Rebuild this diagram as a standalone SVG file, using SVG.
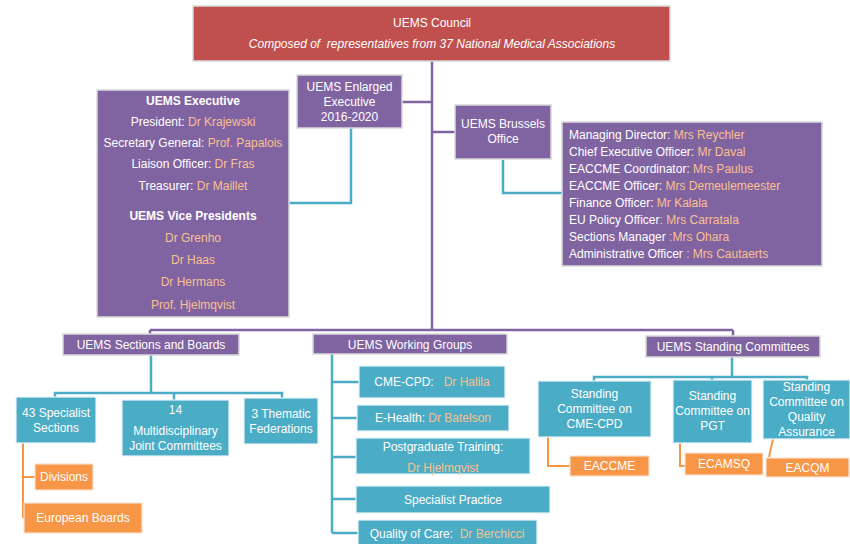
<svg xmlns="http://www.w3.org/2000/svg" width="850" height="544" viewBox="0 0 850 544">
<style>
text{font-family:"Liberation Sans",Arial,sans-serif;font-size:12px;fill:#FFFFFF;white-space:pre}
.c{text-anchor:middle}
.b{font-weight:bold}
.n{fill:#FAC08F}
.red{fill:#C0504D;stroke:#D9D9D9;stroke-width:1.5}
.pur{fill:#8064A2;stroke:#D9D9D9;stroke-width:1.5}
.tea{fill:#4BACC6;stroke:#E8F4F8;stroke-width:1.2}
.ora{fill:#F79646;stroke:#FBE2D0;stroke-width:1.2}
.lp{fill:none;stroke:#8064A2;stroke-width:2.5}
.lt{fill:none;stroke:#4BACC6;stroke-width:2.5}
.lo{fill:none;stroke:#F79646;stroke-width:2}
</style>
<rect width="850" height="544" fill="#FFFFFF"/>
<g id="connectors">
<path class="lp" d="M432,61 V330"/>
<path class="lp" d="M402,102 H432"/>
<path class="lp" d="M432,132 H455"/>
<path class="lp" d="M150,330 H733 M150,330 V334 M733,330 V336"/>
<path class="lt" d="M351,128 V203 H289"/>
<path class="lt" d="M503,160 V193 H562"/>
<path class="lt" d="M151,355 V393 M55,397 V393 H282 V398 M174,393 V400"/>
<path class="lt" d="M332,354 V533 M332,382 H359 M332,418 H357 M332,457 H356 M332,499 H356 M332,533 H358"/>
<path class="lt" d="M732,357 V377 M594,381 V377 H807 V380 M712,377 V380"/>
<path class="lo" d="M23,443 V518 M23,477 H35"/>
<path class="lo" d="M548,437 V466 H570"/>
<path class="lo" d="M680,443 V466 H685"/>
<path class="lo" d="M773,439 L769,457"/>
</g>
<g id="council">
<rect class="red" x="193" y="6" width="477" height="55"/>
<text class="c" x="432" y="27" font-size="12.5">UEMS Council</text>
<text class="c" x="432" y="48" font-size="12.5" font-style="italic">Composed of  representatives from 37 National Medical Associations</text>
</g>
<g id="enlarged-executive">
<rect class="pur" x="297" y="75" width="105" height="53"/>
<text class="c" x="349.5" y="91">UEMS Enlarged</text>
<text class="c" x="349.5" y="106">Executive</text>
<text class="c" x="349.5" y="121">2016-2020</text>
</g>
<g id="executive">
<rect class="pur" x="97" y="90" width="192" height="227"/>
<text class="c b" x="193" y="105">UEMS Executive</text>
<text class="c" x="193" y="126">President: <tspan class="n">Dr Krajewski</tspan></text>
<text class="c" x="193" y="147">Secretary General: <tspan class="n">Prof. Papalois</tspan></text>
<text class="c" x="193" y="168">Liaison Officer: <tspan class="n">Dr Fras</tspan></text>
<text class="c" x="193" y="190">Treasurer: <tspan class="n">Dr Maillet</tspan></text>
<text class="c b" x="193" y="220">UEMS Vice Presidents</text>
<text class="c n" x="193" y="242">Dr Grenho</text>
<text class="c n" x="193" y="264">Dr Haas</text>
<text class="c n" x="193" y="286">Dr Hermans</text>
<text class="c n" x="193" y="309">Prof. Hjelmqvist</text>
</g>
<g id="brussels-office">
<rect class="pur" x="455" y="105" width="96" height="54"/>
<text class="c" x="503" y="128">UEMS Brussels</text>
<text class="c" x="503" y="143">Office</text>
</g>
<g id="brussels-staff">
<rect class="pur" x="562" y="122" width="260" height="144"/>
<text x="569" y="139">Managing Director: <tspan class="n">Mrs Reychler</tspan></text>
<text x="569" y="156">Chief Executive Officer: <tspan class="n">Mr Daval</tspan></text>
<text x="569" y="173">EACCME Coordinator: <tspan class="n">Mrs Paulus</tspan></text>
<text x="569" y="190">EACCME Officer: <tspan class="n">Mrs Demeulemeester</tspan></text>
<text x="569" y="207">Finance Officer: <tspan class="n">Mr Kalala</tspan></text>
<text x="569" y="224">EU Policy Officer<tspan class="n">: Mrs Carratala</tspan></text>
<text x="569" y="241">Sections Manager <tspan class="n">:Mrs Ohara</tspan></text>
<text x="569" y="258">Administrative Officer <tspan class="n">: Mrs Cautaerts</tspan></text>
</g>
<g id="sections-boards">
<rect class="pur" x="63" y="334" width="176" height="21"/>
<text class="c" x="151" y="349">UEMS Sections and Boards</text>
</g>
<g id="working-groups">
<rect class="pur" x="313" y="334" width="194" height="20"/>
<text class="c" x="410" y="348.5">UEMS Working Groups</text>
</g>
<g id="standing-committees">
<rect class="pur" x="646" y="336" width="174" height="21"/>
<text class="c" x="733" y="351">UEMS Standing Committees</text>
</g>
<g id="specialist-sections">
<rect class="tea" x="16" y="397" width="80" height="46"/>
<text class="c" x="56" y="417">43 Specialist</text>
<text class="c" x="56" y="432">Sections</text>
</g>
<g id="mjc">
<rect class="tea" x="122" y="400" width="107" height="56"/>
<text class="c" x="175.5" y="414">14</text>
<text class="c" x="175.5" y="435">Multidisciplinary</text>
<text class="c" x="175.5" y="450">Joint Committees</text>
</g>
<g id="thematic-federations">
<rect class="tea" x="244" y="398" width="74" height="46"/>
<text class="c" x="281" y="418">3 Thematic</text>
<text class="c" x="281" y="433">Federations</text>
</g>
<g id="divisions">
<rect class="ora" x="35" y="464" width="58" height="26"/>
<text class="c" x="64" y="481">Divisions</text>
</g>
<g id="european-boards">
<rect class="ora" x="24" y="503" width="118" height="30"/>
<text class="c" x="83" y="522">European Boards</text>
</g>
<g id="wg-cme-cpd">
<rect class="tea" x="359" y="366" width="146" height="32"/>
<text class="c" x="432" y="386">CME-CPD:   <tspan class="n">Dr Halila</tspan></text>
</g>
<g id="wg-ehealth">
<rect class="tea" x="357" y="405" width="152" height="26"/>
<text class="c" x="433" y="422">E-Health: <tspan class="n">Dr Batelson</tspan></text>
</g>
<g id="wg-pgt">
<rect class="tea" x="356" y="438" width="174" height="36"/>
<text class="c" x="443" y="451">Postgraduate Training:</text>
<text class="c n" x="443" y="472">Dr Hjelmqvist</text>
</g>
<g id="wg-specialist-practice">
<rect class="tea" x="356" y="486" width="194" height="27"/>
<text class="c" x="453" y="504">Specialist Practice</text>
</g>
<g id="wg-quality">
<rect class="tea" x="358" y="520" width="179" height="26"/>
<text class="c" x="447" y="538">Quality of Care:  <tspan class="n">Dr Berchicci</tspan></text>
</g>
<g id="sc-cme-cpd">
<rect class="tea" x="538" y="381" width="113" height="56"/>
<text class="c" x="594.5" y="398">Standing</text>
<text class="c" x="594.5" y="413">Committee on</text>
<text class="c" x="594.5" y="428">CME-CPD</text>
</g>
<g id="sc-pgt">
<rect class="tea" x="673" y="380" width="79" height="63"/>
<text class="c" x="712.5" y="400">Standing</text>
<text class="c" x="712.5" y="415">Committee on</text>
<text class="c" x="712.5" y="430">PGT</text>
</g>
<g id="sc-qa">
<rect class="tea" x="763" y="380" width="87" height="59"/>
<text class="c" x="806.5" y="391">Standing</text>
<text class="c" x="806.5" y="406">Committee on</text>
<text class="c" x="806.5" y="421">Quality</text>
<text class="c" x="806.5" y="436">Assurance</text>
</g>
<g id="eaccme">
<rect class="ora" x="570" y="456" width="79" height="20"/>
<text class="c" x="609.5" y="470">EACCME</text>
</g>
<g id="ecamsq">
<rect class="ora" x="685" y="453" width="78" height="22"/>
<text class="c" x="724" y="468">ECAMSQ</text>
</g>
<g id="eacqm">
<rect class="ora" x="766" y="458" width="83" height="19"/>
<text class="c" x="807.5" y="472">EACQM</text>
</g>
</svg>
